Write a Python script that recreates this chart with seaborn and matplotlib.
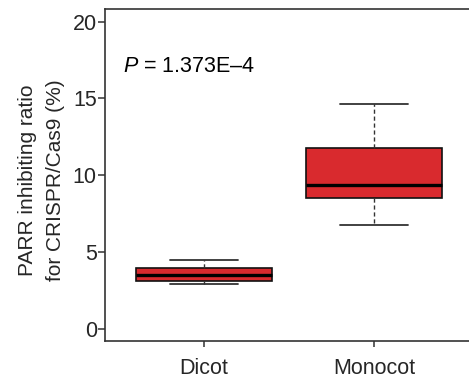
import matplotlib

matplotlib.use('Agg')
import matplotlib.pyplot as plt
import seaborn as sns
import pandas as pd

# five-number summaries (min, Q1, median, Q3, max)
groups = ["Dicot", "Monocot"]
dicot = [2.94, 3.12, 3.51, 3.95, 4.47]
monocot = [6.73, 8.5, 9.37, 11.75, 14.64]
yticks = [0, 5, 10, 15, 20]
p_label = "1.373E\u20134"

df = pd.DataFrame({
    "group": [groups[0]] * len(dicot) + [groups[1]] * len(monocot),
    "ratio": dicot + monocot,
})

sns.set_style("white")
plt.rcParams['font.family'] = ['Liberation Sans', 'DejaVu Sans']
plt.rcParams['mathtext.fontset'] = 'custom'
plt.rcParams['mathtext.it'] = 'Liberation Sans:italic'
plt.rcParams['mathtext.rm'] = 'Liberation Sans'

fig = plt.figure(figsize=(4.69, 3.81), dpi=100)
ax = fig.add_axes([104.9 / 469, 40 / 381, 367.9 / 469, 331.7 / 381])

dark = "#333333"
sns.boxplot(data=df, x="group", y="ratio", ax=ax, order=groups,
            color="#d92a2e", saturation=1, width=0.8, showfliers=False,
            linecolor="black", linewidth=1.0,
            boxprops=dict(edgecolor="#111111", linewidth=1.2),
            medianprops=dict(color="black", linewidth=2.4),
            whiskerprops=dict(color=dark, linewidth=1.0, linestyle=(0, (3, 2))),
            capprops=dict(color=dark, linewidth=1.3))

ax.set_xlim(-0.58, 1.58)
ax.set_ylim(-0.8, 20.8)
ax.set_yticks(yticks)
ax.set_xlabel("")
ax.set_ylabel("PARR inhibiting ratio\nfor CRISPR/Cas9 (%)", fontsize=15,
              linespacing=1.6)
ax.yaxis.set_label_coords(-0.109, 0.484)

for side in ["left", "bottom", "top"]:
    ax.spines[side].set_color(dark)
    ax.spines[side].set_linewidth(1.2)
ax.spines["right"].set_visible(False)

ax.tick_params(axis="y", length=5, width=1.1, color=dark, pad=0.8,
               labelsize=15.5, left=True)
ax.tick_params(axis="x", length=4.5, width=1.1, color=dark, pad=8,
               labelsize=15.5, bottom=True)

ax.text(-0.475, 16.7, r"$\it{P}$ = " + p_label, fontsize=15.5,
        ha="left", va="baseline", color="black")

plt.savefig("out.png", dpi=100)
